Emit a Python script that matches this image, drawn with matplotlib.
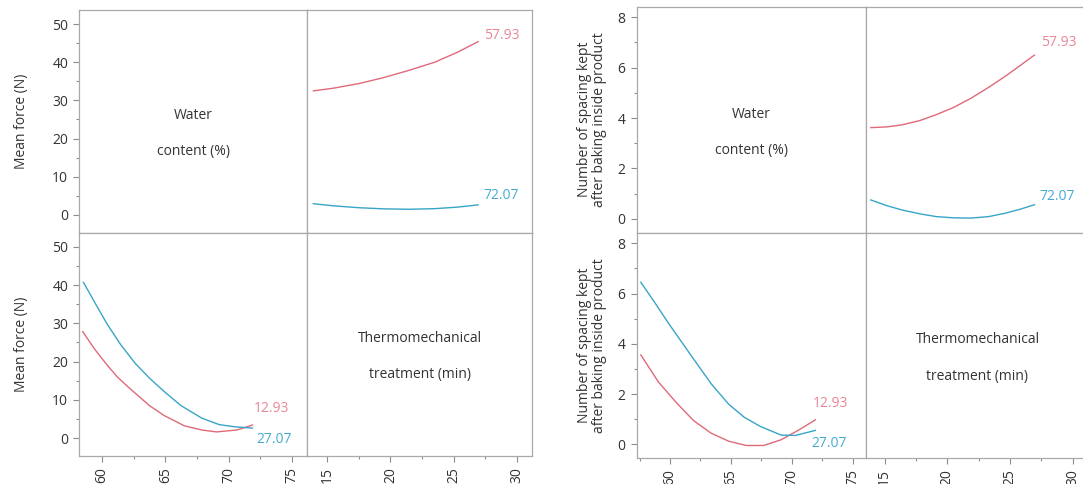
import matplotlib
matplotlib.use('Agg')
import matplotlib.pyplot as plt
from matplotlib.ticker import MultipleLocator

W, H = 1083, 484
RED = '#e0697a'
BLUE = '#38a5c8'
RED_TXT = '#e98795'
BLUE_TXT = '#45acd0'
FRAME = '#a9a9a9'
TXT = '#333333'

plt.rcParams['font.family'] = ['Open Sans', 'DejaVu Sans']

# ---- left chart: Mean force (N) ----
# vs thermomechanical treatment, one line per water content level
force_trt = [13.9, 15.5, 17.5, 19.5, 21.5, 23.5, 25.3, 26.95]
force_trt_w57 = [32.5, 33.2, 34.4, 36.0, 37.9, 40.0, 42.6, 45.4]
force_trt_w72 = [2.9, 2.35, 1.85, 1.55, 1.45, 1.6, 2.0, 2.6]
# vs water content, one line per treatment level
force_water_t27 = [58.53, 59.5, 60.42, 61.5, 62.63, 63.8, 64.9, 66.23, 67.89, 69.27, 70.6, 71.9]
force_t27 = [40.7, 35.0, 29.7, 24.3, 19.5, 15.5, 12.2, 8.5, 5.2, 3.5, 2.9, 2.6]
force_water_t13 = [58.48, 59.4, 60.42, 61.2, 62.08, 63.74, 64.9, 66.5, 67.89, 69.05, 70.66, 71.9]
force_t13 = [27.8, 23.3, 19.0, 16.0, 13.3, 8.5, 5.9, 3.2, 2.1, 1.6, 2.1, 3.4]

# ---- right chart: Number of spacing kept ----
spacing_trt = [13.9, 15.2, 16.4, 17.8, 19.1, 20.5, 21.9, 23.3, 24.6, 25.8, 26.95]
spacing_trt_w57 = [3.62, 3.65, 3.73, 3.9, 4.13, 4.42, 4.79, 5.22, 5.65, 6.08, 6.5]
spacing_trt_w72 = [0.75, 0.52, 0.35, 0.2, 0.09, 0.04, 0.03, 0.09, 0.22, 0.38, 0.56]
spacing_water_t27 = [57.6, 58.8, 59.9, 61.93, 63.4, 64.82, 66.1, 67.41, 69.14, 70.3, 71.94]
spacing_t27 = [6.45, 5.6, 4.8, 3.4, 2.4, 1.6, 1.08, 0.72, 0.37, 0.36, 0.56]
spacing_water_t13 = [57.6, 59.05, 60.49, 61.93, 63.37, 64.82, 66.26, 67.7, 69.14, 70.59, 71.94]
spacing_t13 = [3.56, 2.48, 1.68, 0.95, 0.45, 0.13, -0.04, -0.04, 0.19, 0.58, 0.98]

water_levels = ['57.93', '72.07']
treatment_levels = ['12.93', '27.07']
water_title = ['Water', 'content (%)']
trt_title = ['Thermomechanical', 'treatment (min)']


def add_ax(fig, x0, y0, x1, y1):
    # pixel box (from top-left) -> figure fraction
    ax = fig.add_axes([x0 / W, 1 - y1 / H, (x1 - x0) / W, (y1 - y0) / H])
    for s in ax.spines.values():
        s.set_color(FRAME)
        s.set_linewidth(0.9)
    ax.tick_params(which='both', color='#8c8c8c', labelcolor=TXT, labelsize=10,
                   direction='out')
    ax.tick_params(which='major', length=4.5, width=0.8)
    ax.tick_params(which='minor', length=2.5, width=0.8)
    return ax


def title_text(ax, lines):
    ax.text(0.5, 0.525, lines[0], transform=ax.transAxes, ha='center', va='center',
            fontsize=10, color=TXT)
    ax.text(0.5, 0.363, lines[1], transform=ax.transAxes, ha='center', va='center',
            fontsize=10, color=TXT)


def draw_chart(fig, xs, ys, wlim, tlim, ylim, ymaj, ymin, data, labels, ylabel, ylab_x):
    x0, x1, x2 = xs
    y0, y1, y2 = ys
    (trt, trt_lo, trt_hi, wat_hi_x, wat_hi, wat_lo_x, wat_lo) = data

    tl = add_ax(fig, x0, y0, x1, y1)
    tr = add_ax(fig, x1, y0, x2, y1)
    bl = add_ax(fig, x0, y1, x1, y2)
    br = add_ax(fig, x1, y1, x2, y2)

    for ax in (tl, bl):
        ax.set_xlim(*wlim)
    for ax in (tr, br):
        ax.set_xlim(*tlim)
    for ax in (tl, tr, bl, br):
        ax.set_ylim(*ylim)

    for ax in (tl, bl):
        ax.yaxis.set_major_locator(MultipleLocator(ymaj))
        ax.yaxis.set_minor_locator(MultipleLocator(ymin))
    for ax in (bl, br):
        ax.xaxis.set_major_locator(MultipleLocator(5))
        ax.xaxis.set_minor_locator(MultipleLocator(2.5))
        for lab in ax.get_xticklabels():
            lab.set_rotation(90)
    tl.set_xticks([])
    tr.set_xticks([])
    tr.set_yticks([])
    br.set_yticks([])

    title_text(tl, water_title)
    title_text(br, trt_title)

    # top right: response vs treatment
    tr.plot(trt, trt_lo, color=RED, lw=1.0)
    tr.plot(trt, trt_hi, color=BLUE, lw=1.0)
    for (x, y, txt, c) in labels['tr']:
        tr.text(x, y, txt, color=c, fontsize=10, ha='left', va='center')

    # bottom left: response vs water content
    bl.plot(wat_lo_x, wat_lo, color=RED, lw=1.0)
    bl.plot(wat_hi_x, wat_hi, color=BLUE, lw=1.0)
    for (x, y, txt, c) in labels['bl']:
        bl.text(x, y, txt, color=c, fontsize=10, ha='left', va='center')

    for (ya, yb) in ((y0, y1), (y1, y2)):
        fig.text(ylab_x / W, 1 - (ya + yb) / 2 / H, ylabel, rotation=90, ha='center',
                 va='center', fontsize=10, color=TXT, linespacing=1.05)


fig = plt.figure(figsize=(W / 100, H / 100), dpi=100)

draw_chart(
    fig, (79.3, 307.3, 532.3), (10, 232.7, 456),
    (58.2, 76.23), (13.42, 31.24), (-4.7, 53.7), 10, 5,
    (force_trt, force_trt_w57, force_trt_w72,
     force_water_t27, force_t27, force_water_t13, force_t13),
    {'tr': [(27.4, 47.1, water_levels[0], RED_TXT), (27.4, 5.0, water_levels[1], BLUE_TXT)],
     'bl': [(72.0, 7.6, treatment_levels[0], RED_TXT), (72.2, -0.5, treatment_levels[1], BLUE_TXT)]},
    'Mean force (N)', 22)

draw_chart(
    fig, (636.7, 866, 1089), (6.7, 232.7, 458.3),
    (57.26, 76.1), (13.52, 31.3), (-0.55, 8.42), 2, 1,
    (spacing_trt, spacing_trt_w57, spacing_trt_w72,
     spacing_water_t27, spacing_t27, spacing_water_t13, spacing_t13),
    {'tr': [(27.45, 7.0, water_levels[0], RED_TXT), (27.35, 0.89, water_levels[1], BLUE_TXT)],
     'bl': [(71.74, 1.62, treatment_levels[0], RED_TXT), (71.65, 0.03, treatment_levels[1], BLUE_TXT)]},
    'Number of spacing kept\nafter baking inside product', 592)

fig.savefig('out.png', dpi=100)
